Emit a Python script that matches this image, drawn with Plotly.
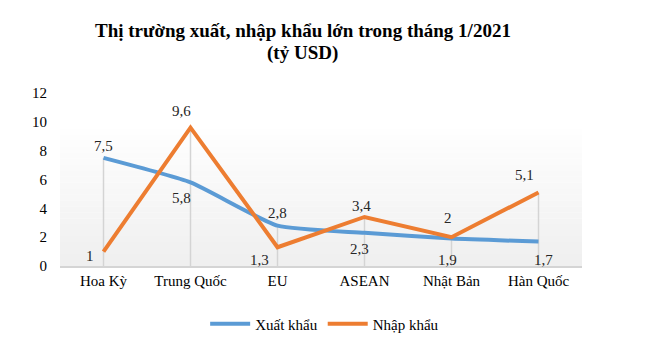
import plotly.graph_objects as go

categories = ["Hoa Kỳ", "Trung Quốc", "EU", "ASEAN", "Nhật Bản", "Hàn Quốc"]
xuat_khau = [7.5, 5.8, 2.8, 2.3, 1.9, 1.7]
nhap_khau = [1.0, 9.6, 1.3, 3.4, 2.0, 5.1]
y_ticks = [0, 2, 4, 6, 8, 10, 12]
title_lines = ["Thị trường xuất, nhập khẩu lớn trong tháng 1/2021", "(tỷ USD)"]

BLUE = "#5B9BD5"
ORANGE = "#ED7D31"
FONT = "Liberation Serif, Times New Roman, DejaVu Serif, serif"

# label offsets (px) per point: (xshift, yshift)
xk_off = [(0, 12), (-9, -16), (0, 13), (-5, -16), (-4, -21), (5, -19)]
nk_off = [(-14, -4), (-9, 17), (-18, -13), (-3, 11), (-4, 19), (-14, 17)]
title_y = [1.362, 1.232]


def fmt(v):
    return ("%g" % v).replace(".", ",")


fig = go.Figure()

# subtle gradient background in plot area
n_bands = 24
top = 0.83
for i in range(n_bands):
    y0 = top * i / n_bands
    y1 = top * (i + 1) / n_bands
    t = 1 - (i + 0.5) / n_bands
    c = int(round(255 - 16 * t))
    fig.add_shape(type="rect", xref="paper", yref="paper", x0=0, x1=1, y0=y0, y1=y1,
                  fillcolor=f"rgb({c},{c},{c})", line_width=0, layer="below")

# drop lines
for cat, a, b in zip(categories, xuat_khau, nhap_khau):
    fig.add_shape(type="line", xref="x", yref="y", x0=cat, x1=cat, y0=0, y1=max(a, b),
                  line=dict(color="#d4d4d4", width=1.5), layer="below")

fig.add_trace(go.Scatter(x=categories, y=xuat_khau, mode="lines", name="Xuất khẩu",
                         line=dict(color=BLUE, width=4, shape="spline", smoothing=0.5)))
fig.add_trace(go.Scatter(x=categories, y=nhap_khau, mode="lines", name="Nhập khẩu",
                         line=dict(color=ORANGE, width=4)))

for vals, offs in ((xuat_khau, xk_off), (nhap_khau, nk_off)):
    for cat, v, (dx, dy) in zip(categories, vals, offs):
        fig.add_annotation(x=cat, y=v, text=fmt(v), showarrow=False, xshift=dx, yshift=dy,
                           font=dict(family=FONT, size=15, color="#262626"))

for txt, ty in zip(title_lines, title_y):
    fig.add_annotation(xref="paper", yref="paper", x=0.4655, y=ty, text=f"<b>{txt}</b>",
                       showarrow=False, xanchor="center", yanchor="middle",
                       font=dict(family=FONT, size=19, color="black"))

fig.update_layout(
    width=650, height=356,
    margin=dict(l=52, r=76, t=85, b=98),
    paper_bgcolor="white", plot_bgcolor="white",
    font=dict(family=FONT, size=15, color="#262626"),
    showlegend=True,
    legend=dict(orientation="h", x=0.507, xanchor="center", y=-0.24, yanchor="top",
                font=dict(family=FONT, size=15, color="black"), itemwidth=40),
    xaxis=dict(range=[-0.5, 5.5], showgrid=False, showline=True, linecolor="#d4d4d4",
               linewidth=1.5, ticks="", tickfont=dict(family=FONT, size=15, color="black")),
    yaxis=dict(range=[0, 12], tickvals=y_ticks, showgrid=False, zeroline=False,
               showline=False, ticks="", ticklabelstandoff=12,
               tickfont=dict(family=FONT, size=15, color="black")),
)

fig.write_html("out.html")
